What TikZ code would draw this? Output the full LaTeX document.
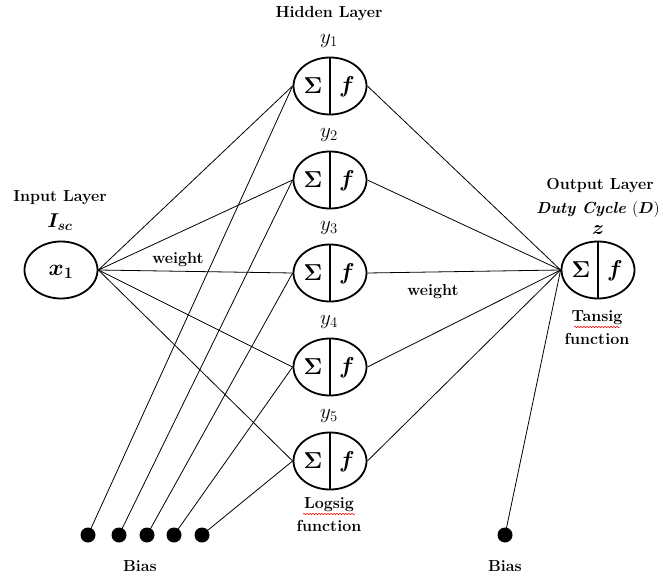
\RequirePackage{fix-cm}
\documentclass[tikz,border=0pt]{standalone}
\usepackage{amsmath,bm}
\usepackage{fontspec}
\usetikzlibrary{shapes.geometric,decorations.pathmorphing}
\begin{document}
\begin{tikzpicture}[x=1pt,y=-1pt,
  neuron/.style={ellipse,draw,line width=1.8pt,minimum width=73pt,minimum height=57pt,inner sep=0pt},
  conn/.style={line width=0.8pt},
  biasdot/.style={circle,fill=black,minimum size=15pt,inner sep=0pt},
  lbl/.style={font=\fontsize{16}{18}\selectfont\bfseries,inner sep=0pt},
  sym/.style={font=\fontsize{23}{25}\selectfont,inner sep=0pt},
  msym/.style={font=\fontsize{20}{22}\selectfont,inner sep=0pt},
  ylbl/.style={font=\fontsize{21}{23}\selectfont,inner sep=0pt},
  spell/.style={red,line width=0.5pt,decorate,decoration={snake,amplitude=0.8pt,segment length=3pt}}
  ]
\useasboundingbox (0,0) rectangle (663,580);

% input
\node[neuron] (x1) at (61,270) {};
\node[sym] (x1t) at (61,272) {$\boldsymbol{x_1}$};
\node[lbl] (inl) at (60,198) {Input Layer};
\node[msym] (isc) at (60,222) {$\boldsymbol{I_{sc}}$};

% hidden
\node[lbl] (hl) at (329,14) {Hidden Layer};
\foreach \i/\yy in {1/86,2/180,3/273,4/367,5/461}{
  \node[neuron] (h\i) at (330,\yy) {};
  \draw[line width=1.8pt] (h\i.north) -- (h\i.south);
  \node[sym] (hs\i) at (313,\yy) {$\boldsymbol{\Sigma}$};
  \node[sym] (hf\i) at (347,\yy+1) {$\boldsymbol{f}$};
  \node[ylbl] (hy\i) at (329,\yy-45) {$y_{\i}$};
}
\node[lbl] (lg1) at (329,505) {Logsig};
\node[lbl] (lg2) at (329,526) {function};
\draw[spell] (303,514) -- (355,514);

% output
\node[neuron] (out) at (598,270) {};
\draw[line width=1.8pt] (out.north) -- (out.south);
\node[sym] (os) at (581,270) {$\boldsymbol{\Sigma}$};
\node[sym] (of) at (615,271) {$\boldsymbol{f}$};
\node[lbl] (ol) at (600,186) {Output Layer};
\node[lbl] (dc) at (598,209) {\textit{Duty Cycle} $(\boldsymbol{D})$};
\node[msym] (zz) at (598,230) {$\boldsymbol{z}$};
\node[lbl] (ts1) at (597,318) {Tansig};
\node[lbl] (ts2) at (597,339) {function};
\draw[spell] (574,327) -- (620,327);

% bias
\node[biasdot] (b1) at (88,535) {};
\node[biasdot] (b2) at (119,535) {};
\node[biasdot] (b3) at (147,535) {};
\node[biasdot] (b4) at (174,535) {};
\node[biasdot] (b5) at (202,535) {};
\node[biasdot] (bo) at (505,535) {};
\node[lbl] (bl1) at (140,566) {Bias};
\node[lbl] (bl2) at (505,566) {Bias};

% connections
\foreach \i in {1,...,5}{
  \draw[conn] (x1.east) -- (h\i.west);
  \draw[conn] (b\i.center) -- (h\i.west);
  \draw[conn] (h\i.east) -- (out.west);
}
\draw[conn] (bo.center) -- (out.west);

\node[lbl] (w1) at (178,260) {weight};
\node[lbl] (w2) at (433,292) {weight};
\end{tikzpicture}
\end{document}
